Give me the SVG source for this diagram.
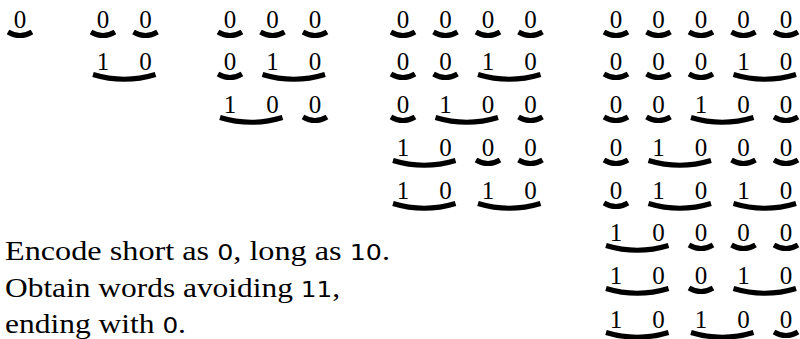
<svg xmlns="http://www.w3.org/2000/svg" width="800" height="339" viewBox="0 0 800 339">
<style>
.d{font-family:"Liberation Serif","DejaVu Serif",serif;font-size:25px;fill:#000;text-anchor:middle}
.arc{fill:none;stroke:#000;stroke-width:5;stroke-linecap:butt}
.t{font-family:"Liberation Serif","DejaVu Serif",serif;font-size:28px;fill:#000}
.n{font-family:"DejaVu Sans","Liberation Sans",sans-serif;font-size:22px}
</style>
<defs>
<path id="s" class="arc" d="M-12,4 Q0,11 12,4"/>
<path id="l" class="arc" d="M-10,4.5 Q21.25,14 52.5,4.5"/>
</defs>
<rect width="800" height="339" fill="#fff"/>
<!-- column 1 -->
<g id="w1-1" transform="translate(20,28)"><text class="d" x="0">0</text><use href="#s"/></g>
<!-- column 2 -->
<g id="w2-1" transform="translate(103,28)"><text class="d" x="0">0</text><text class="d" x="42.5">0</text><use href="#s"/><use href="#s" x="42.5"/></g>
<g id="w2-2" transform="translate(103,70)"><text class="d" x="0">1</text><text class="d" x="42.5">0</text><use href="#l"/></g>
<!-- column 3 -->
<g id="w3-1" transform="translate(230,28)"><text class="d" x="0">0</text><text class="d" x="42.5">0</text><text class="d" x="85">0</text><use href="#s"/><use href="#s" x="42.5"/><use href="#s" x="85"/></g>
<g id="w3-2" transform="translate(230,70)"><text class="d" x="0">0</text><text class="d" x="42.5">1</text><text class="d" x="85">0</text><use href="#s"/><use href="#l" x="42.5"/></g>
<g id="w3-3" transform="translate(230,113)"><text class="d" x="0">1</text><text class="d" x="42.5">0</text><text class="d" x="85">0</text><use href="#l"/><use href="#s" x="85"/></g>
<!-- column 4 -->
<g id="w4-1" transform="translate(403,28)"><text class="d" x="0">0</text><text class="d" x="42.5">0</text><text class="d" x="85">0</text><text class="d" x="127.5">0</text><use href="#s"/><use href="#s" x="42.5"/><use href="#s" x="85"/><use href="#s" x="127.5"/></g>
<g id="w4-2" transform="translate(403,70)"><text class="d" x="0">0</text><text class="d" x="42.5">0</text><text class="d" x="85">1</text><text class="d" x="127.5">0</text><use href="#s"/><use href="#s" x="42.5"/><use href="#l" x="85"/></g>
<g id="w4-3" transform="translate(403,113)"><text class="d" x="0">0</text><text class="d" x="42.5">1</text><text class="d" x="85">0</text><text class="d" x="127.5">0</text><use href="#s"/><use href="#l" x="42.5"/><use href="#s" x="127.5"/></g>
<g id="w4-4" transform="translate(403,156)"><text class="d" x="0">1</text><text class="d" x="42.5">0</text><text class="d" x="85">0</text><text class="d" x="127.5">0</text><use href="#l"/><use href="#s" x="85"/><use href="#s" x="127.5"/></g>
<g id="w4-5" transform="translate(403,199)"><text class="d" x="0">1</text><text class="d" x="42.5">0</text><text class="d" x="85">1</text><text class="d" x="127.5">0</text><use href="#l"/><use href="#l" x="85"/></g>
<!-- column 5 -->
<g id="w5-1" transform="translate(616,28)"><text class="d" x="0">0</text><text class="d" x="42.5">0</text><text class="d" x="85">0</text><text class="d" x="127.5">0</text><text class="d" x="170">0</text><use href="#s"/><use href="#s" x="42.5"/><use href="#s" x="85"/><use href="#s" x="127.5"/><use href="#s" x="170"/></g>
<g id="w5-2" transform="translate(616,70)"><text class="d" x="0">0</text><text class="d" x="42.5">0</text><text class="d" x="85">0</text><text class="d" x="127.5">1</text><text class="d" x="170">0</text><use href="#s"/><use href="#s" x="42.5"/><use href="#s" x="85"/><use href="#l" x="127.5"/></g>
<g id="w5-3" transform="translate(616,113)"><text class="d" x="0">0</text><text class="d" x="42.5">0</text><text class="d" x="85">1</text><text class="d" x="127.5">0</text><text class="d" x="170">0</text><use href="#s"/><use href="#s" x="42.5"/><use href="#l" x="85"/><use href="#s" x="170"/></g>
<g id="w5-4" transform="translate(616,156)"><text class="d" x="0">0</text><text class="d" x="42.5">1</text><text class="d" x="85">0</text><text class="d" x="127.5">0</text><text class="d" x="170">0</text><use href="#s"/><use href="#l" x="42.5"/><use href="#s" x="127.5"/><use href="#s" x="170"/></g>
<g id="w5-5" transform="translate(616,199)"><text class="d" x="0">0</text><text class="d" x="42.5">1</text><text class="d" x="85">0</text><text class="d" x="127.5">1</text><text class="d" x="170">0</text><use href="#s"/><use href="#l" x="42.5"/><use href="#l" x="127.5"/></g>
<g id="w5-6" transform="translate(616,241)"><text class="d" x="0">1</text><text class="d" x="42.5">0</text><text class="d" x="85">0</text><text class="d" x="127.5">0</text><text class="d" x="170">0</text><use href="#l"/><use href="#s" x="85"/><use href="#s" x="127.5"/><use href="#s" x="170"/></g>
<g id="w5-7" transform="translate(616,284)"><text class="d" x="0">1</text><text class="d" x="42.5">0</text><text class="d" x="85">0</text><text class="d" x="127.5">1</text><text class="d" x="170">0</text><use href="#l"/><use href="#s" x="85"/><use href="#l" x="127.5"/></g>
<g id="w5-8" transform="translate(616,328)"><text class="d" x="0">1</text><text class="d" x="42.5">0</text><text class="d" x="85">1</text><text class="d" x="127.5">0</text><text class="d" x="170">0</text><use href="#l"/><use href="#l" x="85"/><use href="#s" x="170"/></g>
<!-- caption -->
<g id="caption">
<text class="t" x="5" y="260" textLength="385" lengthAdjust="spacingAndGlyphs">Encode short as <tspan class="n">0</tspan>, long as <tspan class="n">10</tspan>.</text>
<text class="t" x="5" y="296.5" textLength="335" lengthAdjust="spacingAndGlyphs">Obtain words avoiding <tspan class="n">11</tspan>,</text>
<text class="t" x="5" y="333" textLength="181" lengthAdjust="spacingAndGlyphs">ending with <tspan class="n">0</tspan>.</text>
</g>
<g id="connectors"></g>
</svg>
